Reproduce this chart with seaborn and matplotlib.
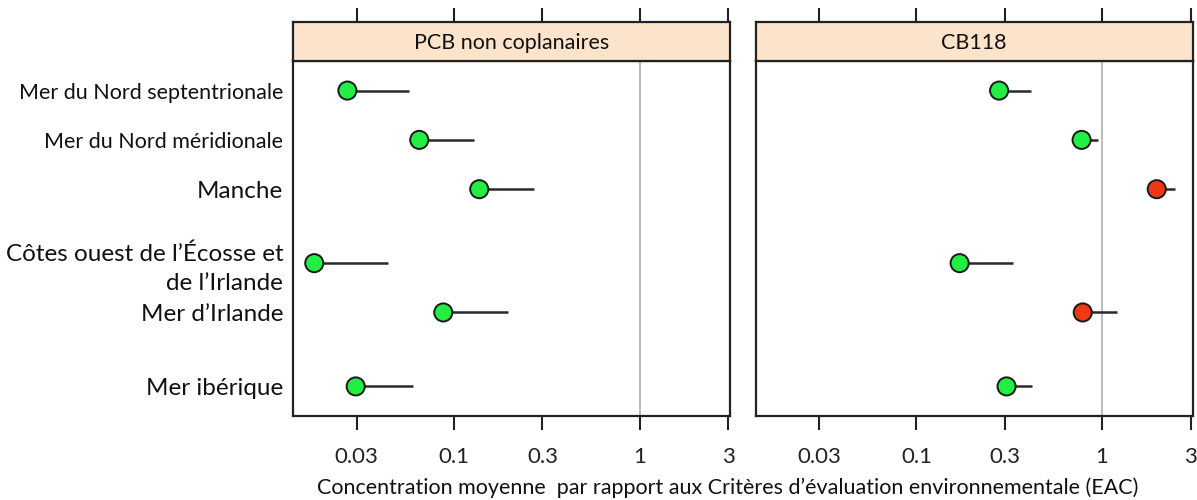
import matplotlib
matplotlib.use("Agg")
import matplotlib.pyplot as plt
import seaborn as sns
import pandas as pd

# Regions (top to bottom) and their vertical positions
regions = [
    "Mer du Nord septentrionale",
    "Mer du Nord méridionale",
    "Manche",
    "Côtes ouest de l’Écosse et\nde l’Irlande",
    "Mer d’Irlande",
    "Mer ibérique",
]
region_pos = [0, 1, 2, 3.5, 4.5, 6]
label_sizes = [15.5, 15.5, 17.5, 17.5, 17.5, 17.5]

panels = ["PCB non coplanaires", "CB118"]

# Mean concentration relative to EAC, and upper bound of the interval
pcb_mean = [0.0267, 0.0651, 0.137, 0.0177, 0.0877, 0.0296]
pcb_upper = [0.0571, 0.128, 0.269, 0.0444, 0.195, 0.060]
cb118_mean = [0.279, 0.776, 1.97, 0.171, 0.787, 0.306]
cb118_upper = [0.413, 0.955, 2.46, 0.332, 1.21, 0.417]

# Status: below EAC (green) or above (red)
pcb_status = ["ok", "ok", "ok", "ok", "ok", "ok"]
cb118_status = ["ok", "ok", "high", "ok", "high", "ok"]

tick_values = [0.03, 0.1, 0.3, 1, 3]
tick_labels = ["0.03", "0.1", "0.3", "1", "3"]

sns.set_theme(style="white")
plt.rcParams["font.family"] = ["Lato", "DejaVu Sans"]

frames = []
for name, mean, upper, status in [
    (panels[0], pcb_mean, pcb_upper, pcb_status),
    (panels[1], cb118_mean, cb118_upper, cb118_status),
]:
    frames.append(pd.DataFrame({
        "panel": name, "region": regions, "pos": region_pos,
        "mean": mean, "upper": upper, "status": status,
    }))
df = pd.concat(frames, ignore_index=True)

palette = {"ok": "#22EE44", "high": "#EE3A12"}

fig = plt.figure(figsize=(11.97, 5.0), dpi=100)
W, H = 1197, 500
xlim = (0.0136, 3.07)

lefts = [293, 755.5]
width = 437
plot_top, plot_bottom, strip_top = 61, 416, 22

for i, name in enumerate(panels):
    sub = df[df["panel"] == name]
    ax = fig.add_axes([lefts[i] / W, 1 - plot_bottom / H, width / W,
                       (plot_bottom - plot_top) / H])
    ax.set_xscale("log")
    ax.set_xlim(*xlim)
    ax.set_ylim(6.6, -0.6)
    ax.axvline(1, color="#BDBDBD", lw=1.5, zorder=0)
    ax.hlines(sub["pos"], sub["mean"], sub["upper"], color="#2a2a2a",
              lw=1.8, zorder=1)
    sns.scatterplot(data=sub, x="mean", y="pos", hue="status",
                    palette=palette, s=170, edgecolor="#1a1a1a",
                    linewidth=1.4, legend=False, zorder=3, ax=ax)
    ax.set_xlabel("")
    ax.set_ylabel("")
    ax.set_xticks(tick_values)
    ax.set_xticklabels(tick_labels, fontsize=16)
    ax.xaxis.set_minor_locator(matplotlib.ticker.NullLocator())
    ax.tick_params(axis="x", which="major", direction="out", length=10,
                   width=1.5, color="#222222", bottom=True, top=False,
                   pad=12, labelcolor="#222222")
    if i == 0:
        ax.set_yticks(region_pos)
        ax.set_yticklabels(regions)
        for lab, fs in zip(ax.get_yticklabels(), label_sizes):
            lab.set_fontsize(fs)
            lab.set_color("#111111")
            lab.set_linespacing(1.45)
        ax.tick_params(axis="y", length=0, pad=7)
    else:
        ax.set_yticks([])
    for sp in ax.spines.values():
        sp.set_color("#222222")
        sp.set_linewidth(1.6)

    # Strip header with top ticks
    sax = fig.add_axes([lefts[i] / W, 1 - plot_top / H, width / W,
                        (plot_top - strip_top) / H])
    sax.set_facecolor("#FCE3CC")
    sax.set_xscale("log")
    sax.set_xlim(*xlim)
    sax.set_yticks([])
    sax.set_xticks(tick_values)
    sax.xaxis.set_minor_locator(matplotlib.ticker.NullLocator())
    sax.tick_params(axis="x", which="major", direction="out", length=10,
                    width=1.5, color="#222222", bottom=False, top=True,
                    labelbottom=False, labeltop=False)
    for sp in sax.spines.values():
        sp.set_color("#222222")
        sp.set_linewidth(1.6)
    sax.text(0.5, 0.47, name, transform=sax.transAxes, ha="center",
             va="center", fontsize=15.5, color="#111111")

fig.text(728 / W, 1 - 488 / H,
         "Concentration moyenne  par rapport aux Critères d’évaluation environnementale (EAC)",
         ha="center", va="center", fontsize=15.5, color="#111111")

fig.savefig("out.png", dpi=100, facecolor="white")
